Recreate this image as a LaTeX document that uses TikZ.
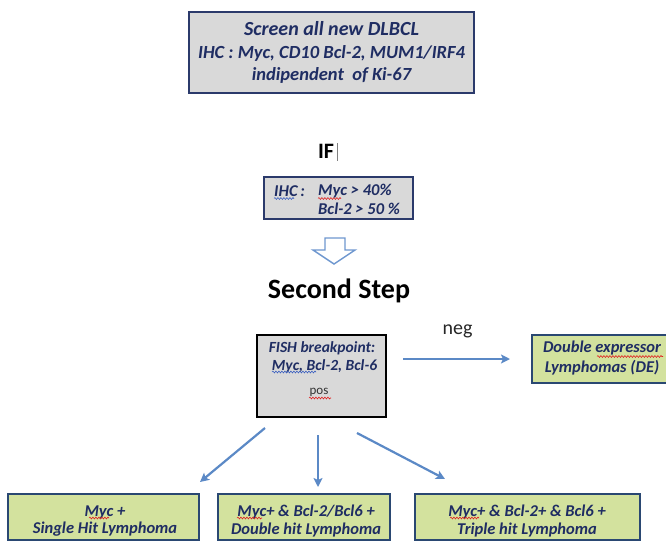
\documentclass[tikz,border=0pt]{standalone}
\usepackage{fontspec}
\setmainfont{Carlito}
\usetikzlibrary{arrows.meta,decorations.pathmorphing}
\definecolor{txtnavy}{HTML}{1F2D63}
\definecolor{boxnavy}{HTML}{2B3A6B}
\definecolor{boxgray}{HTML}{D9D9D9}
\definecolor{boxgreen}{HTML}{D3E29E}
\definecolor{greenedge}{HTML}{2A4872}
\definecolor{arrblue}{HTML}{5B89C6}
\definecolor{hollowblue}{HTML}{6E97CF}
\definecolor{spellred}{HTML}{E02020}
\definecolor{spellblue}{HTML}{3A5FC0}
\tikzset{
  graybox/.style={draw, fill=boxgray, inner sep=0pt, align=center, text=txtnavy},
  greenbox/.style={draw=greenedge, fill=boxgreen, line width=2pt, inner sep=0pt},
  greentext/.style={inner sep=0pt, align=center, text=txtnavy,
    font=\bfseries\itshape\fontsize{16.5}{17.5}\selectfont},
  itxt/.style={inner sep=0pt, text=txtnavy, font=\bfseries\itshape\fontsize{16.5}{18}\selectfont},
  flowarrow/.style={draw=arrblue, line width=2.2pt, -{Stealth[length=9pt,width=9pt,inset=2pt]}},
  redwave/.style={draw=spellred, line width=0.6pt, decorate, decoration={snake, segment length=3pt, amplitude=0.9pt}},
  bluewave/.style={draw=spellblue, line width=0.6pt, decorate, decoration={snake, segment length=3pt, amplitude=0.9pt}}
}
\begin{document}
\begin{tikzpicture}[x=1pt,y=-1pt]
\useasboundingbox (0,0) rectangle (666,541);

% top box
\node[graybox, draw=boxnavy, line width=2.4pt, minimum width=285pt, minimum height=81pt,
  font=\bfseries\itshape\fontsize{18.5}{22.5}\selectfont] (screen) at (331.5,52.5)
  {{\fontsize{20}{22.5}\selectfont Screen all new DLBCL}\\IHC : Myc, CD10 Bcl-2, MUM1/IRF4\\indipendent\ \ of Ki-67};

% IF
\node[inner sep=0pt, font=\bfseries\fontsize{22}{24}\selectfont] (iftxt) at (326,151.5) {IF};
\coordinate (cur1) at (337,143);
\coordinate (cur2) at (337,161);
\draw[gray, line width=0.8pt] (cur1) -- (cur2);

% IHC box
\node[graybox, draw=boxnavy, line width=1.6pt, minimum width=149pt, minimum height=42pt] (ihcbox) at (338.5,198) {};
\node[itxt, anchor=west] (ihclab) at (274,191) {IHC\,:};
\node[itxt, anchor=west] (ihc1) at (318,191) {Myc > 40\%};
\node[itxt, anchor=west] (ihc2) at (318,209) {Bcl-2 > 50 \%};
\coordinate (w1a) at (274,198.5); \coordinate (w1b) at (294,198.5);
\draw[bluewave] (w1a) -- (w1b);
\coordinate (w2a) at (318,198.5); \coordinate (w2b) at (341,198.5);
\draw[redwave] (w2a) -- (w2b);

% hollow arrow
\draw[draw=hollowblue, fill=white, line width=1.4pt, line join=miter]
  (325,238) -- (345,238) -- (345,250) -- (355,250) -- (334,264) -- (313,250) -- (325,250) -- cycle;

% Second Step
\node[inner sep=0pt, font=\bfseries\fontsize{28}{30}\selectfont] (second) at (339,291) {Second Step};

% FISH box
\node[graybox, draw=black, line width=1.5pt, minimum width=129pt, minimum height=82pt] (fish) at (321.5,376) {};
\node[itxt, font=\bfseries\itshape\fontsize{15.5}{17}\selectfont] (fish1) at (322,348) {FISH breakpoint:};
\node[itxt, font=\bfseries\itshape\fontsize{15.5}{17}\selectfont] (fish2) at (324.5,366) {Myc, Bcl-2, Bcl-6};
\node[inner sep=0pt, text=black!80, font=\fontsize{13}{15}\selectfont] (pos) at (319,392) {pos};
\coordinate (w3a) at (272,372); \coordinate (w3b) at (316,372);
\draw[bluewave] (w3a) -- (w3b);
\coordinate (w4a) at (309,398); \coordinate (w4b) at (331,398);
\draw[redwave] (w4a) -- (w4b);

% neg arrow and DE box
\node[inner sep=0pt, text=black!85, font=\fontsize{20}{22}\selectfont] (neg) at (457.5,331) {neg};
\node[greenbox, minimum width=138pt, minimum height=48pt] (de) at (601,359) {};
\node[greentext, font=\bfseries\itshape\fontsize{16.5}{20}\selectfont] (detxt) at (602,358) {Double expressor\\Lymphomas (DE)};
\coordinate (ns) at (403,359);
\coordinate (ne) at (510,359);
\draw[flowarrow] (ns) -- (ne);
\coordinate (w5a) at (597,356.5); \coordinate (w5b) at (663,356.5);
\draw[redwave] (w5a) -- (w5b);

% bottom boxes
\node[greenbox, minimum width=191pt, minimum height=46pt] (single) at (103.5,517) {};
\node[greenbox, minimum width=172pt, minimum height=46pt] (double) at (304,517) {};
\node[greenbox, minimum width=225pt, minimum height=46pt] (triple) at (527.5,517) {};
\node[greentext] (singletxt) at (105,521) {Myc +\\Single Hit Lymphoma};
\node[greentext] (doubletxt) at (306,521) {Myc+ \& Bcl-2/Bcl6 +\\Double hit Lymphoma};
\node[greentext] (tripletxt) at (527,521) {Myc+ \& Bcl-2+ \& Bcl6 +\\Triple hit Lymphoma};

\coordinate (w6a) at (89,518); \coordinate (w6b) at (109,518);
\draw[redwave] (w6a) -- (w6b);
\coordinate (w7a) at (237,518); \coordinate (w7b) at (262,518);
\draw[redwave] (w7a) -- (w7b);
\coordinate (w8a) at (450,518); \coordinate (w8b) at (479,518);
\draw[redwave] (w8a) -- (w8b);

% bottom arrows
\coordinate (a1s) at (265,428); \coordinate (a1e) at (200,482);
\coordinate (a2s) at (318,435); \coordinate (a2e) at (318,487);
\coordinate (a3s) at (357,433); \coordinate (a3e) at (445,479);
\draw[flowarrow] (a1s) -- (a1e);
\draw[flowarrow] (a2s) -- (a2e);
\draw[flowarrow] (a3s) -- (a3e);
\end{tikzpicture}
\end{document}
